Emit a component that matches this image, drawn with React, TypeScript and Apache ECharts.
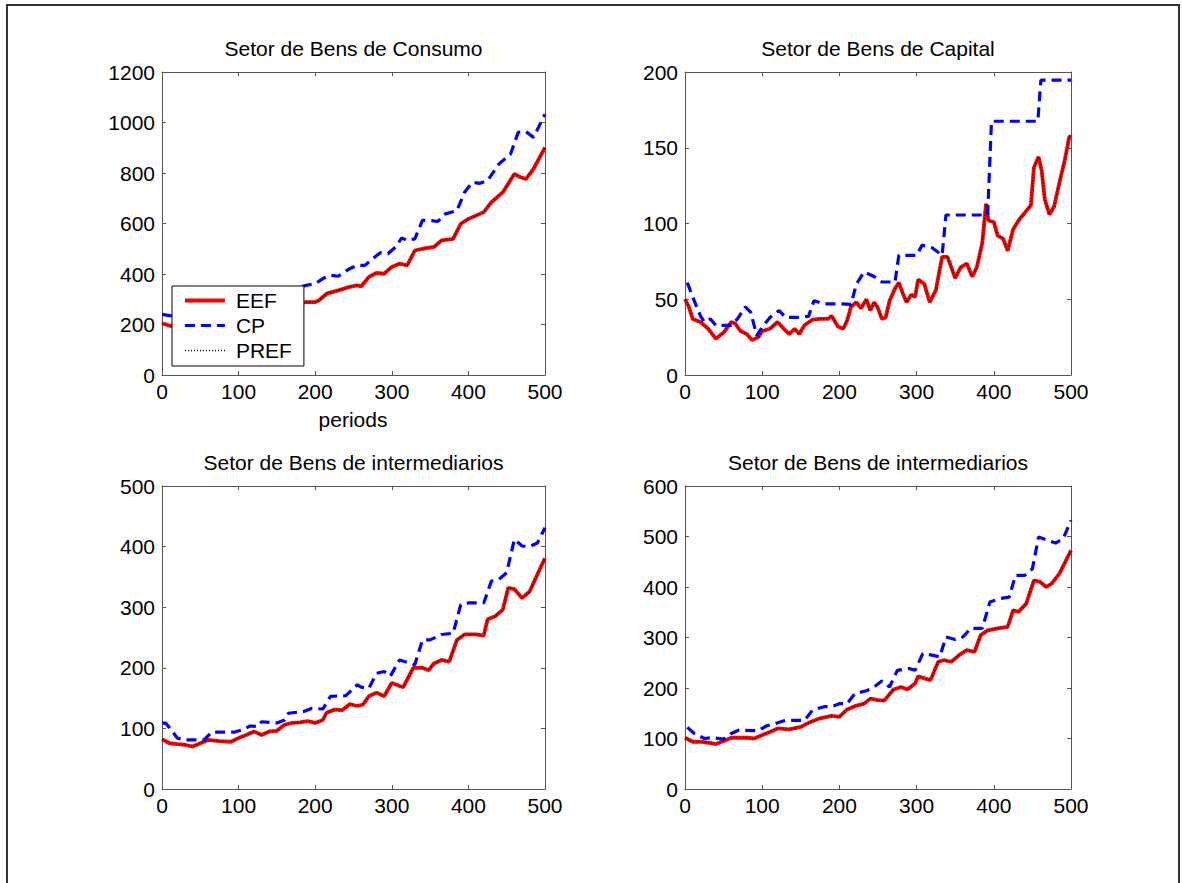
import React, { useEffect, useRef } from "react";
import * as echarts from "echarts";

const FONT = "'Liberation Sans', Arial, Helvetica, sans-serif";
const FS = 21;

// Titles and axis settings
const titles = [
  "Setor de Bens de Consumo",
  "Setor de Bens de Capital",
  "Setor de Bens de intermediarios",
  "Setor de Bens de intermediarios",
];
const xMax = 500;
const xInterval = 100;
const yMaxes = [1200, 200, 500, 600];
const yIntervals = [200, 50, 100, 100];
const legendNames = ["EEF", "CP", "PREF"];

// Setor de Bens de Consumo: [period, value]
const consumoEEF = [
  [0, 205], [10, 195], [30, 190], [50, 200], [80, 215], [110, 235], [140, 255], [170, 275],
  [188, 289], [200, 289], [205, 296], [215, 322], [230, 335], [245, 349], [255, 355], [260, 351],
  [270, 388], [280, 404], [290, 401], [300, 428], [310, 441], [320, 434], [330, 493], [340, 500],
  [355, 507], [365, 533], [380, 539], [390, 599], [400, 618], [420, 645], [430, 684], [445, 724],
  [460, 796], [468, 783], [475, 776], [485, 816], [500, 901],
];
const consumoCP = [
  [0, 240], [10, 235], [30, 230], [60, 250], [100, 280], [140, 310], [170, 340], [188, 355],
  [200, 362], [210, 382], [220, 395], [230, 391], [245, 421], [255, 434], [265, 434], [275, 461],
  [285, 484], [295, 480], [305, 507], [313, 543], [320, 533], [330, 539], [340, 612], [350, 612],
  [360, 608], [370, 638], [385, 651], [395, 724], [405, 763], [415, 759], [425, 770], [440, 836],
  [455, 875], [465, 961], [475, 964], [485, 941], [500, 1033],
];

// Setor de Bens de Capital
const capitalEEF = [
  [0, 50], [5, 45], [10, 37], [20, 35], [30, 30.5], [40, 24], [50, 28], [60, 35], [65, 34], [72, 29],
  [80, 27], [87, 23], [95, 25], [100, 29], [110, 30.5], [120, 35], [128, 30.5], [135, 27], [142, 30.5], [148, 27],
  [155, 33], [165, 36.5], [175, 37], [185, 37], [190, 39], [198, 32], [205, 30.5], [210, 36], [215, 45], [222, 48],
  [228, 44], [235, 50], [240, 42.6], [245, 48], [250, 44], [255, 37], [260, 38], [265, 49], [272, 57], [277, 61],
  [282, 54], [287, 48], [293, 53], [298, 51.5], [302, 63], [310, 60], [317, 48], [325, 56], [333, 78], [340, 78],
  [345, 71], [350, 64], [357, 71], [365, 73.6], [372, 65], [378, 71], [385, 87], [390, 113], [393, 102], [400, 101],
  [405, 92], [412, 90], [418, 82], [425, 96], [432, 102], [440, 107], [448, 112], [452, 137], [458, 144], [462, 135],
  [466, 116], [472, 106], [478, 111], [485, 127], [492, 142], [498, 157.6], [500, 157],
];
const capitalCP = [
  [3, 61], [10, 51.5], [20, 39], [25, 35], [33, 37], [40, 32.7], [60, 32.7], [68, 37], [78, 45], [85, 41.5],
  [93, 26], [100, 31.6], [110, 38], [122, 42.6], [130, 38], [145, 38], [160, 38.7], [167, 49], [180, 47], [200, 47],
  [215, 46.6], [222, 60], [232, 68], [245, 65], [255, 61.4], [272, 61.4], [277, 79], [300, 79], [307, 85.7], [320, 84],
  [333, 79], [338, 105.6], [392, 105.6], [397, 167.5], [457, 167.5], [461, 194.7], [500, 194.7],
];

// Setor de Bens de intermediarios (left)
const interAEEF = [
  [0, 82], [10, 75.5], [20, 74], [30, 73], [40, 70], [50, 75.5], [60, 81], [75, 79], [90, 78], [100, 84],
  [110, 89], [120, 95], [130, 89], [140, 95], [150, 96], [160, 106], [170, 109], [180, 110], [190, 112], [200, 109],
  [210, 114], [215, 126], [225, 131], [235, 130], [245, 140], [255, 137], [262, 139], [270, 153], [280, 159], [290, 153],
  [300, 175], [310, 170], [315, 168], [328, 200], [340, 200], [348, 196], [355, 207], [365, 213], [375, 210], [385, 246],
  [395, 255], [410, 255], [420, 253], [425, 280], [435, 285], [445, 296], [452, 332], [460, 330], [470, 315], [480, 326],
  [490, 354], [500, 381],
];
const interACP = [
  [0, 108.6], [5, 108.6], [12, 97.6], [20, 84], [30, 81], [55, 81], [65, 94], [95, 94], [105, 97.6], [115, 104],
  [125, 103], [130, 111], [150, 109], [160, 114], [165, 125], [185, 128], [195, 133], [210, 132], [220, 153], [240, 154],
  [255, 172], [260, 168], [270, 166], [280, 191], [290, 194], [298, 186], [310, 213], [320, 209], [330, 205], [340, 246],
  [350, 246], [365, 255], [380, 257], [390, 304], [400, 307], [420, 307], [430, 343], [440, 346], [450, 357], [460, 412],
  [470, 401], [480, 400], [490, 406], [500, 431],
];

// Setor de Bens de intermediarios (right)
const interBEEF = [
  [0, 101.5], [10, 93.6], [20, 93.6], [30, 91.6], [40, 89], [50, 95], [60, 101.5], [80, 101.5], [90, 100], [100, 107],
  [110, 113], [120, 120], [135, 118], [150, 123], [160, 131], [175, 140], [190, 145], [200, 143], [210, 157.5], [220, 164],
  [232, 169], [240, 179], [250, 176], [258, 175], [270, 197], [280, 202], [288, 197], [298, 209], [302, 223], [310, 219],
  [318, 215.6], [328, 252], [335, 255], [345, 252], [355, 265], [365, 275], [375, 271.6], [383, 304.6], [392, 314], [405, 318],
  [418, 321], [425, 354], [432, 350.7], [442, 367], [452, 413], [460, 410], [468, 400], [475, 407], [485, 426.5], [500, 472.6],
];
const interBCP = [
  [3, 122], [12, 110], [25, 100], [35, 101.5], [50, 99], [60, 110], [70, 116.7], [95, 115.4], [105, 124.6], [120, 131],
  [130, 136], [155, 136], [165, 156], [180, 163], [190, 163], [200, 169], [210, 169], [220, 189], [235, 194.5], [245, 202],
  [255, 214], [265, 202], [275, 235], [290, 238.6], [298, 235], [308, 268], [320, 265], [330, 261.7], [338, 301], [350, 296],
  [360, 301], [370, 318], [385, 318], [395, 370.5], [408, 377], [420, 380], [428, 423], [440, 423], [450, 436], [458, 499],
  [470, 492.4], [480, 487], [490, 496], [500, 532],
];

// PREF lies on top of EEF in every panel of the picture
const consumoPREF = consumoEEF;
const capitalPREF = capitalEEF;
const interAPREF = interAEEF;
const interBPREF = interBEEF;

const panels = [
  { eef: consumoEEF, cp: consumoCP, pref: consumoPREF },
  { eef: capitalEEF, cp: capitalCP, pref: capitalPREF },
  { eef: interAEEF, cp: interACP, pref: interAPREF },
  { eef: interBEEF, cp: interBCP, pref: interBPREF },
];

const gridBoxes = [
  { left: 162, top: 72, width: 383, height: 303 },
  { left: 685, top: 72, width: 386, height: 303 },
  { left: 162, top: 486, width: 383, height: 303 },
  { left: 685, top: 486, width: 386, height: 303 },
];

const AXIS_COLOR = "#555";
const EEF_STYLE = { color: "#ff0000", width: 3.8 };
const CP_STYLE = { color: "#0000ff", width: 3.2, type: [10, 6] };
const PREF_STYLE = { color: "#000000", width: 1.3, type: [1, 2] };

function buildOption() {
  const grid: any[] = [];
  const xAxis: any[] = [];
  const yAxis: any[] = [];
  const series: any[] = [];
  const graphic: any[] = [];
  const plain = (v: number) => String(v);

  gridBoxes.forEach((g, i) => {
    grid.push({ ...g, containLabel: false, show: false });
    const common = {
      gridIndex: i,
      type: "value",
      splitLine: { show: false },
      axisLine: { show: true, onZero: false, lineStyle: { color: AXIS_COLOR, width: 1 } },
      axisTick: { show: true, inside: true, length: 4, lineStyle: { color: AXIS_COLOR } },
    };
    xAxis.push({
      ...common,
      position: "bottom",
      min: 0,
      max: xMax,
      interval: xInterval,
      axisLabel: { show: true, color: "#000", fontSize: FS, fontFamily: FONT, margin: 6, formatter: plain },
    });
    xAxis.push({
      ...common,
      position: "top",
      min: 0,
      max: xMax,
      interval: xInterval,
      axisLabel: { show: false },
    });
    yAxis.push({
      ...common,
      position: "left",
      min: 0,
      max: yMaxes[i],
      interval: yIntervals[i],
      axisLabel: { show: true, color: "#000", fontSize: FS, fontFamily: FONT, margin: 7, formatter: plain },
    });
    yAxis.push({
      ...common,
      position: "right",
      min: 0,
      max: yMaxes[i],
      interval: yIntervals[i],
      axisLabel: { show: false },
    });

    const p = panels[i];
    const base = {
      type: "line",
      xAxisIndex: 2 * i,
      yAxisIndex: 2 * i,
      symbol: "none",
      smooth: false,
      clip: true,
    };
    series.push({
      ...base,
      name: "EEF",
      data: p.eef,
      lineStyle: EEF_STYLE,
      itemStyle: { color: "#ff0000" },
      z: 2,
    });
    series.push({
      ...base,
      name: "CP",
      data: p.cp,
      lineStyle: CP_STYLE,
      itemStyle: { color: "#0000ff" },
      z: 3,
    });
    series.push({
      ...base,
      name: "PREF",
      data: p.pref,
      lineStyle: PREF_STYLE,
      itemStyle: { color: "#000000" },
      z: 4,
    });

    graphic.push({
      type: "text",
      x: g.left + g.width / 2,
      y: g.top - 24,
      style: {
        text: titles[i],
        fill: "#000",
        font: `${FS}px ${FONT}`,
        align: "center",
        verticalAlign: "middle",
        textAlign: "center",
        textVerticalAlign: "middle",
      },
    });
  });

  graphic.push({
    type: "text",
    x: 353,
    y: 419,
    style: {
      text: "periods",
      fill: "#000",
      font: `${FS}px ${FONT}`,
      align: "center",
      verticalAlign: "middle",
      textAlign: "center",
      textVerticalAlign: "middle",
    },
  });

  graphic.push({
    type: "rect",
    shape: { x: 7, y: 5, width: 1172, height: 900 },
    style: { fill: "none", stroke: "#333", lineWidth: 2 },
    silent: true,
  });

  const legendStyles = [EEF_STYLE, CP_STYLE, PREF_STYLE];

  return {
    animation: false,
    backgroundColor: "#ffffff",
    textStyle: { fontFamily: FONT },
    grid,
    xAxis,
    yAxis,
    series,
    graphic,
    legend: {
      data: legendNames.map((name, k) => ({ name, lineStyle: { ...legendStyles[k] } })),
      orient: "vertical",
      left: 172,
      top: 286,
      padding: [4, 12, 5, 11],
      itemGap: 4,
      itemWidth: 40,
      itemHeight: 14,
      backgroundColor: "#ffffff",
      borderColor: "#000000",
      borderWidth: 1,
      borderRadius: 0,
      itemStyle: { opacity: 0 },
      textStyle: { fontSize: FS, fontFamily: FONT, color: "#000", padding: [0, 0, 0, 6] },
      selectedMode: false,
      z: 10,
    },
  };
}

export default function App() {
  const ref = useRef<HTMLDivElement>(null);
  useEffect(() => {
    if (!ref.current) return;
    const chart = echarts.init(ref.current, undefined, { renderer: "svg" });
    chart.setOption(buildOption() as any);
    return () => chart.dispose();
  }, []);
  return (
    <div
      ref={ref}
      style={{ position: "absolute", left: 0, top: 0, width: 1182, height: 883, background: "#fff" }}
    />
  );
}
